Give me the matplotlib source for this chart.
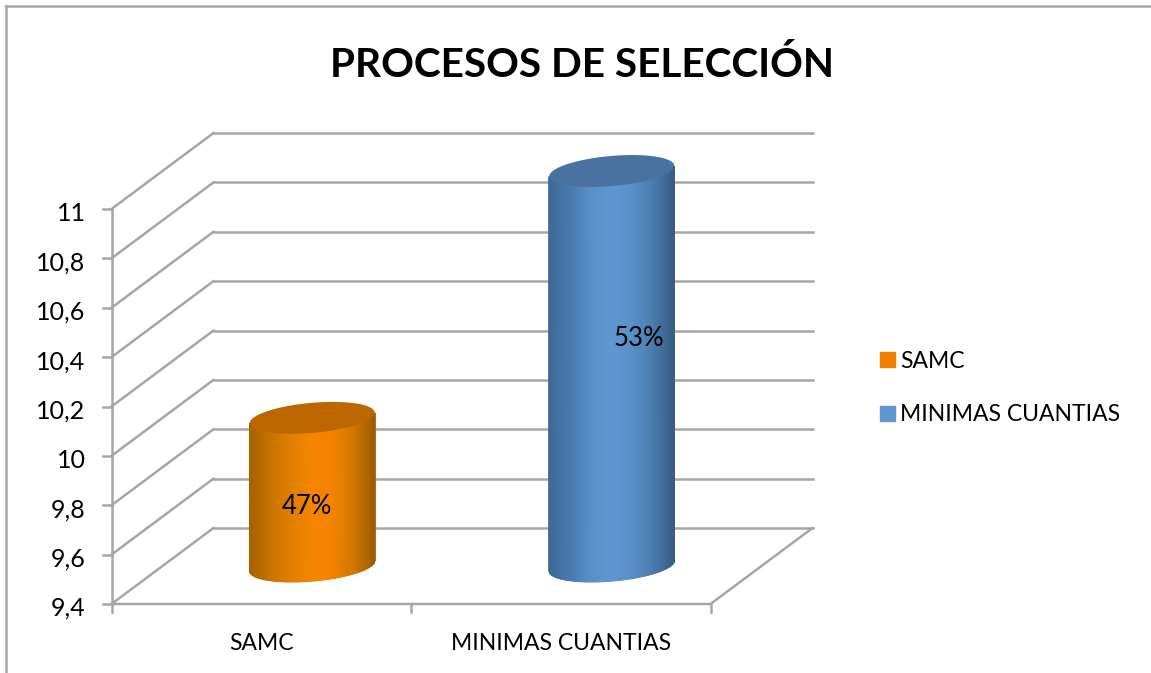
import numpy as np
import matplotlib
matplotlib.use("Agg")
import matplotlib.pyplot as plt
from matplotlib.colors import LinearSegmentedColormap
from matplotlib.lines import Line2D
from matplotlib.patches import Patch

plt.rcParams['font.family'] = ['Lato', 'DejaVu Sans']

TITLE = "PROCESOS DE SELECCIÓN"
categories = ["SAMC", "MINIMAS CUANTIAS"]
values = [10, 11]
pct_labels = ["47%", "53%"]
y_ticks = [9.4, 9.6, 9.8, 10, 10.2, 10.4, 10.6, 10.8, 11]
y_tick_labels = ["9,4", "9,6", "9,8", "10", "10,2", "10,4", "10,6", "10,8", "11"]

W, H = 1151, 673
GRID = "#A6A6A6"
TXT = "#000000"

orange_stops = ["#A86200", "#C97400", "#E07F00", "#F68500", "#F28300", "#D27800", "#9E5C00"]
blue_stops = ["#3E6A97", "#4A7BAF", "#5A90C8", "#6097D0", "#5A90C8", "#4B7CAD", "#375D85"]
top_colors = ["#BC6600", "#4A72A0"]
legend_colors = ["#F08000", "#6097D0"]

fig = plt.figure(figsize=(W / 100, H / 100), dpi=100, facecolor="white")
# axes = the front plane of the 3D box
ax = fig.add_axes([111.5 / W, (H - 604) / H, 599 / W, 395 / H])
ax.axis("off")

# depth of the box in data units
n = len(categories)
y_per_px = (y_ticks[-1] - y_ticks[0]) / 395
x_per_px = n / 599
DX = 102 * x_per_px
DY = 76 * y_per_px
LW = 1.8

# outer frame of the picture
fig.add_artist(Line2D([6 / W, 6 / W], [0, 1 - 6 / H], color=GRID, lw=LW))
fig.add_artist(Line2D([6 / W, 1], [1 - 6 / H, 1 - 6 / H], color=GRID, lw=LW))

fig.text(582 / W, 1 - 65 / H, TITLE, fontsize=29.2, fontweight="bold", color=TXT,
         ha="center", va="center")

# walls and floor
for t, lab in zip(y_ticks, y_tick_labels):
    ax.plot([0, DX], [t, t + DY], color=GRID, lw=LW, clip_on=False, zorder=1)
    ax.plot([DX, n + DX], [t + DY, t + DY], color=GRID, lw=LW, clip_on=False, zorder=1)
    ax.plot([-9 * x_per_px, 0], [t, t], color=GRID, lw=LW, clip_on=False, zorder=1)
    ax.annotate(lab, (0, t), xytext=(-26, -12), textcoords="offset pixels", ha="right",
                va="baseline", fontsize=18, color=TXT, annotation_clip=False)
ax.plot([0, 0], [y_ticks[0], y_ticks[-1]], color=GRID, lw=LW, clip_on=False, zorder=1)
ax.plot([0, n, n + DX], [y_ticks[0], y_ticks[0], y_ticks[0] + DY], color=GRID, lw=LW,
        clip_on=False, zorder=1)
for i in range(n + 1):
    ax.plot([i, i], [y_ticks[0], y_ticks[0] - 8 * y_per_px], color=GRID, lw=LW,
            clip_on=False, zorder=1)
for i, c in enumerate(categories):
    ax.annotate(c, (i + 0.5, y_ticks[0]), xytext=(0, -39), textcoords="offset pixels",
                ha="center", va="center", fontsize=16.5, color=TXT, annotation_clip=False)

# bar cross section: circle on the floor plane, sheared like the box
A = 59 * x_per_px
B = 0.2 * DX
C = 0.21 * DY


def ellipse(cx, cy, start=0.0, stop=2 * np.pi):
    t = np.linspace(start, stop, 200)
    return cx + A * np.cos(t) + B * np.sin(t), cy + C * np.sin(t)


# angle of the left/right extremes, in pixel space the shear moves them
t0 = np.arctan2(B, A)
stops = [orange_stops, blue_stops]
label_off = [(-5, -15), (27, 30)]
for i, v in enumerate(values):
    cx = i + 0.5 + DX / 2
    base = y_ticks[0] + DY / 2
    top = v + DY / 2
    # body: lower arc of the base up to lower arc of the top
    xa, ya = ellipse(cx, base, np.pi + t0, 2 * np.pi + t0)
    _, yc = ellipse(cx, top, np.pi + t0, 2 * np.pi + t0)
    shade = (xa - xa.min()) / (xa.max() - xa.min())
    cmap = LinearSegmentedColormap.from_list("c%d" % i, stops[i])
    ax.pcolormesh(np.vstack([xa, xa]), np.vstack([ya, yc]), np.vstack([shade, shade]),
                  shading="gouraud", cmap=cmap, vmin=0, vmax=1, zorder=3, clip_on=False)
    xt, yt = ellipse(cx, top)
    ax.fill(xt, yt, color=top_colors[i], zorder=4, clip_on=False, lw=0)
    ax.annotate(pct_labels[i], (cx, (base + top) / 2), xytext=label_off[i],
                textcoords="offset pixels", ha="center", va="center",
                fontsize=18.5, color=TXT, zorder=5, annotation_clip=False)
ax.set_xlim(0, n)
ax.set_ylim(y_ticks[0], y_ticks[-1])

handles = [Patch(color=c, label=s) for c, s in zip(legend_colors, categories)]
fig.legend(handles=handles, loc="center left", bbox_to_anchor=(859 / W, 1 - 388 / H),
           frameon=False, fontsize=16.5, handlelength=0.65, handleheight=0.65,
           handletextpad=0.26, labelspacing=1.42, labelcolor=TXT)

fig.savefig("out.png", dpi=100)
